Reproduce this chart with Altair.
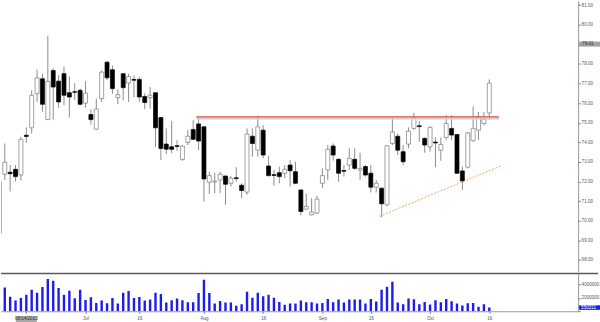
import altair as alt
import pandas as pd

# ---- data (index 0 = first full candle; -1 is the partly cut-off one) ----
idx = list(range(-1, 91))
opens = [69.36,
         72.37, 72.47, 72.62, 72.33, 74.36, 74.74, 76.48, 77.24, 75.16, 77.66,
         77.12, 77.50, 76.53, 76.58, 76.65, 76.00, 75.42, 74.67, 76.23, 78.09,
         77.70, 76.28, 77.50, 77.02, 77.21, 77.21, 76.34, 76.28, 76.53, 75.26,
         73.91, 73.77, 73.83, 73.13, 73.99, 74.65, 74.94, 74.79, 71.96, 71.98,
         72.08, 72.28, 71.91, 72.19, 71.81, 71.46, 74.31, 73.60, 74.62, 72.79,
         72.35, 72.45, 72.42, 72.84, 72.50, 71.57, 70.59, 70.30, 70.39, 71.91,
         72.59, 73.81, 73.13, 72.56, 72.84, 73.13, 72.59, 72.76, 72.42, 71.71,
         71.66, 70.81, 73.94, 74.31, 73.52, 73.91, 74.71, 74.84, 74.20, 73.77,
         74.01, 73.60, 74.25, 74.71, 74.40, 72.54, 72.73, 74.08, 74.62, 74.96,
         75.50]
highs = [72.00,
         73.94, 72.84, 72.84, 74.28, 74.76, 76.65, 77.72, 77.50, 79.44, 77.78,
         77.41, 77.87, 77.36, 77.02, 76.74, 77.12, 75.69, 76.23, 77.66, 78.14,
         77.92, 76.69, 77.52, 77.50, 77.41, 77.32, 76.51, 76.82, 76.56, 75.28,
         74.71, 75.09, 74.11, 73.86, 74.62, 75.13, 75.33, 74.82, 72.50, 72.45,
         72.50, 72.30, 72.28, 72.73, 71.91, 74.71, 74.71, 75.33, 74.87, 73.30,
         72.59, 72.76, 72.84, 73.10, 73.01, 71.59, 71.37, 71.15, 71.27, 72.67,
         73.86, 73.94, 73.18, 72.84, 73.69, 73.69, 73.47, 72.84, 72.84, 72.08,
         71.68, 73.86, 75.26, 74.45, 73.86, 74.76, 75.50, 75.09, 74.25, 74.82,
         74.25, 74.25, 75.38, 75.38, 74.42, 72.76, 74.53, 75.84, 75.55, 75.55,
         77.21]
lows = [69.30,
        72.08, 71.49, 72.00, 72.05, 73.97, 74.45, 76.06, 75.55, 75.13, 75.16,
        75.75, 75.89, 75.26, 76.14, 75.89, 75.77, 74.91, 74.62, 76.06, 77.16,
        76.48, 75.94, 76.14, 76.06, 76.31, 76.06, 75.69, 75.72, 73.77, 73.10,
        73.40, 73.44, 73.57, 73.06, 73.86, 74.11, 73.60, 70.98, 71.37, 71.41,
        71.41, 70.81, 71.74, 71.99, 71.15, 71.32, 73.26, 73.26, 73.18, 72.25,
        71.79, 71.91, 72.17, 71.74, 71.88, 70.27, 70.56, 70.27, 70.36, 71.66,
        72.08, 73.06, 71.99, 72.25, 72.59, 72.59, 72.08, 72.25, 71.44, 71.44,
        70.17, 70.73, 73.86, 73.35, 72.84, 73.69, 74.62, 74.03, 73.47, 73.52,
        72.73, 73.06, 74.11, 74.11, 72.39, 71.57, 72.67, 74.03, 74.11, 74.87,
        75.16]
closes = [71.97,
          72.98, 72.40, 72.25, 74.15, 74.30, 76.40, 77.29, 75.94, 77.11, 76.82,
          76.06, 76.40, 76.31, 76.55, 75.94, 76.51, 75.16, 75.70, 77.58, 77.29,
          76.74, 76.43, 76.79, 77.36, 77.17, 76.31, 76.03, 76.40, 74.74, 73.69,
          73.65, 73.64, 73.79, 73.81, 74.31, 74.15, 74.06, 72.13, 72.30, 72.02,
          72.37, 71.86, 72.17, 72.15, 71.54, 74.42, 73.94, 74.79, 73.35, 72.30,
          72.31, 72.25, 72.62, 72.55, 71.91, 70.47, 70.73, 70.44, 71.10, 72.30,
          73.64, 73.35, 72.42, 72.52, 73.18, 72.67, 72.67, 72.33, 71.71, 71.91,
          70.86, 73.82, 74.53, 73.60, 73.01, 74.57, 75.26, 74.80, 73.86, 74.76,
          73.97, 73.89, 74.96, 74.37, 72.42, 72.03, 74.48, 74.71, 75.29, 75.18,
          77.02]
volumes = [2000000,
           3580000, 2190000, 1600000, 2000000, 2490000, 3240000, 2790000, 3640000, 4840000, 4580000,
           3490000, 2490000, 3090000, 1940000, 3240000, 1700000, 2090000, 1250000, 1600000, 1190000,
           2000000, 1150000, 2790000, 3040000, 2000000, 2150000, 1600000, 1750000, 2790000, 2600000,
           1300000, 1640000, 1900000, 1640000, 1340000, 1340000, 2750000, 4730000, 2750000, 1150000,
           1550000, 1300000, 1300000, 810000, 1040000, 2940000, 2040000, 2790000, 2240000, 2490000,
           2040000, 1400000, 960000, 1150000, 1150000, 1600000, 1340000, 1340000, 1150000, 1250000,
           1850000, 1340000, 1750000, 1300000, 1750000, 1750000, 1750000, 1150000, 1850000, 1450000,
           3240000, 3690000, 4430000, 1300000, 1040000, 1900000, 1790000, 1040000, 1400000, 1000000,
           1640000, 1340000, 1850000, 1490000, 1150000, 850000, 1190000, 1250000, 660000, 1040000,
           550000]

tick_idx = [4, 15, 25, 37, 48, 59, 68, 79, 90]
tick_labels = ["06/14/2013", "Jul", "16", "Aug", "16", "Sep", "16", "Oct", "16"]
price_ticks = list(range(68, 82))
vol_ticks = [0, 2000000, 4000000]

res_level = 75.30
res_start, res_end = 35.6, 91.8
trend_x = [69.6, 92.1]
trend_y = [70.22, 72.79]
price_marker = 79.01
vol_marker = 550311

df = pd.DataFrame({"i": idx, "open": opens, "high": highs, "low": lows,
                   "close": closes, "volume": volumes})

FONT = "Liberation Sans"
xs = alt.Scale(domain=[-0.70, 106.5], nice=False, zero=False, padding=0)
ys = alt.Scale(domain=[67.41, 81.22], nice=False, zero=False, padding=0)
vs = alt.Scale(domain=[0, 5670000], nice=False, zero=False, padding=0)

W, HP, HV = 580, 272, 38

price_axis = alt.Axis(orient="right", values=price_ticks, format=".2f", grid=False,
                      tickSize=2, labelPadding=1, domainColor="#999999", tickColor="#666666",
                      labelFontSize=4.6, labelColor="#555555", labelFont=FONT, title=None,
                      labelOverlap=False, labelFlush=False)

base = alt.Chart(df).encode(x=alt.X("i:Q", scale=xs, axis=None))
up = "datum.close >= datum.open"

wick = base.mark_rule(color="#8c8c8c", strokeWidth=1, clip=True).encode(
    y=alt.Y("low:Q", scale=ys, axis=price_axis), y2="high:Q")
body = base.mark_bar(size=4, strokeWidth=0.7, clip=True).encode(
    y=alt.Y("open:Q", scale=ys, axis=price_axis), y2="close:Q",
    fill=alt.condition(up, alt.value("#ffffff"), alt.value("#000000")),
    stroke=alt.condition(up, alt.value("#7a7a7a"), alt.value("#000000")))

res_df = pd.DataFrame({"x": [res_start], "x2": [res_end], "y": [res_level]})
res_shadow = alt.Chart(res_df).mark_rule(color="#cfcfcf", strokeWidth=2).encode(
    x=alt.X("x:Q", scale=xs, axis=None), x2="x2:Q",
    y=alt.Y("y:Q", scale=ys, axis=price_axis), yOffset=alt.value(1.8))
res_line = alt.Chart(res_df).mark_rule(color="#d9503e", strokeWidth=1.3).encode(
    x=alt.X("x:Q", scale=xs, axis=None), x2="x2:Q", y=alt.Y("y:Q", scale=ys, axis=price_axis))

trend_df = pd.DataFrame({"x": trend_x, "y": trend_y})
trend = alt.Chart(trend_df).mark_line(color="#f2a54c", strokeWidth=1, strokeDash=[2, 1.5]).encode(
    x=alt.X("x:Q", scale=xs, axis=None), y=alt.Y("y:Q", scale=ys, axis=price_axis))

pm_df = pd.DataFrame({"v": [price_marker]})
pm_box = alt.Chart(pm_df).mark_rect(color="#a3a3a3").encode(
    x=alt.value(W + 1), x2=alt.value(W + 22),
    y=alt.Y("lo:Q", scale=ys, axis=price_axis), y2="hi:Q").transform_calculate(
    lo="datum.v - 0.13", hi="datum.v + 0.13")
pm_text = alt.Chart(pm_df).mark_text(font=FONT, fontSize=4.6, color="#333333",
                                     align="left", baseline="middle").encode(
    x=alt.value(W + 4), y=alt.Y("v:Q", scale=ys, axis=price_axis),
    text=alt.Text("v:Q", format=".2f"))

price = alt.layer(wick, body, res_shadow, res_line, trend, pm_box, pm_text).properties(
    width=W, height=HP)

# ---- volume panel ----
label_expr = " : ".join(
    f"datum.value == {t} ? '{'' if k == 0 else lab}'" for k, (t, lab) in enumerate(zip(tick_idx, tick_labels))
) + " : ''"

x_axis = alt.Axis(values=tick_idx, labelExpr=label_expr, grid=False, tickSize=2,
                  labelPadding=2, domainColor="#999999", tickColor="#777777",
                  labelFontSize=4.6, labelColor="#555555", labelFont=FONT, title=None,
                  labelFlush=False, labelOverlap=False)
vol_axis = alt.Axis(orient="right", values=vol_ticks, format="d", grid=False,
                    labelExpr="datum.value == 0 ? '' : datum.label",
                    tickSize=2, labelPadding=1, domainColor="#999999", tickColor="#666666",
                    labelFontSize=4.6, labelColor="#555555", labelFont=FONT, title=None,
                    labelOverlap=False, labelFlush=False)

vbars = alt.Chart(df).mark_bar(size=2.4, color="#1c1cf0", clip=True).encode(
    x=alt.X("i:Q", scale=xs, axis=x_axis),
    y=alt.Y("volume:Q", scale=vs, axis=vol_axis))

sep = alt.Chart(pd.DataFrame({"a": [0]})).mark_rule(color="#5a5a5a", strokeWidth=1.5).encode(
    x=alt.value(0), x2=alt.value(600), y=alt.value(0))

vm_df = pd.DataFrame({"v": [vol_marker]})
vm_box = alt.Chart(vm_df).mark_rect(color="#1a1aff").encode(
    x=alt.value(W + 1), x2=alt.value(W + 22),
    y=alt.Y("lo:Q", scale=vs, axis=vol_axis), y2="hi:Q").transform_calculate(
    lo="datum.v - 340000", hi="datum.v + 340000")
vm_text = alt.Chart(vm_df).mark_text(font=FONT, fontSize=4.6, color="#ffffff",
                                     align="left", baseline="middle").encode(
    x=alt.value(W + 3), y=alt.Y("v:Q", scale=vs, axis=vol_axis),
    text=alt.Text("v:Q", format="d"))

date_df = pd.DataFrame({"t": [tick_idx[0]], "lab": [tick_labels[0]]})
date_box = alt.Chart(date_df).mark_rect(color="#a8a8a8").encode(
    x=alt.X("a:Q", scale=xs, axis=x_axis), x2="b:Q",
    y=alt.value(HV + 5), y2=alt.value(HV + 11)).transform_calculate(
    a="datum.t - 1.95", b="datum.t + 1.95")
date_text = alt.Chart(date_df).mark_text(font=FONT, fontSize=4.6, color="#333333",
                                         align="center", baseline="middle").encode(
    x=alt.X("t:Q", scale=xs, axis=x_axis), y=alt.value(HV + 8), text="lab:N")

volume = alt.layer(vbars, sep, vm_box, vm_text, date_box, date_text).properties(
    width=W, height=HV)

chart = alt.vconcat(price, volume, spacing=1).properties(
    padding=0, background="#ffffff").configure_view(
    strokeWidth=0).configure_axis(labelOverlap=False)

chart.save("out.html", embed_options={"renderer": "svg", "actions": False})
